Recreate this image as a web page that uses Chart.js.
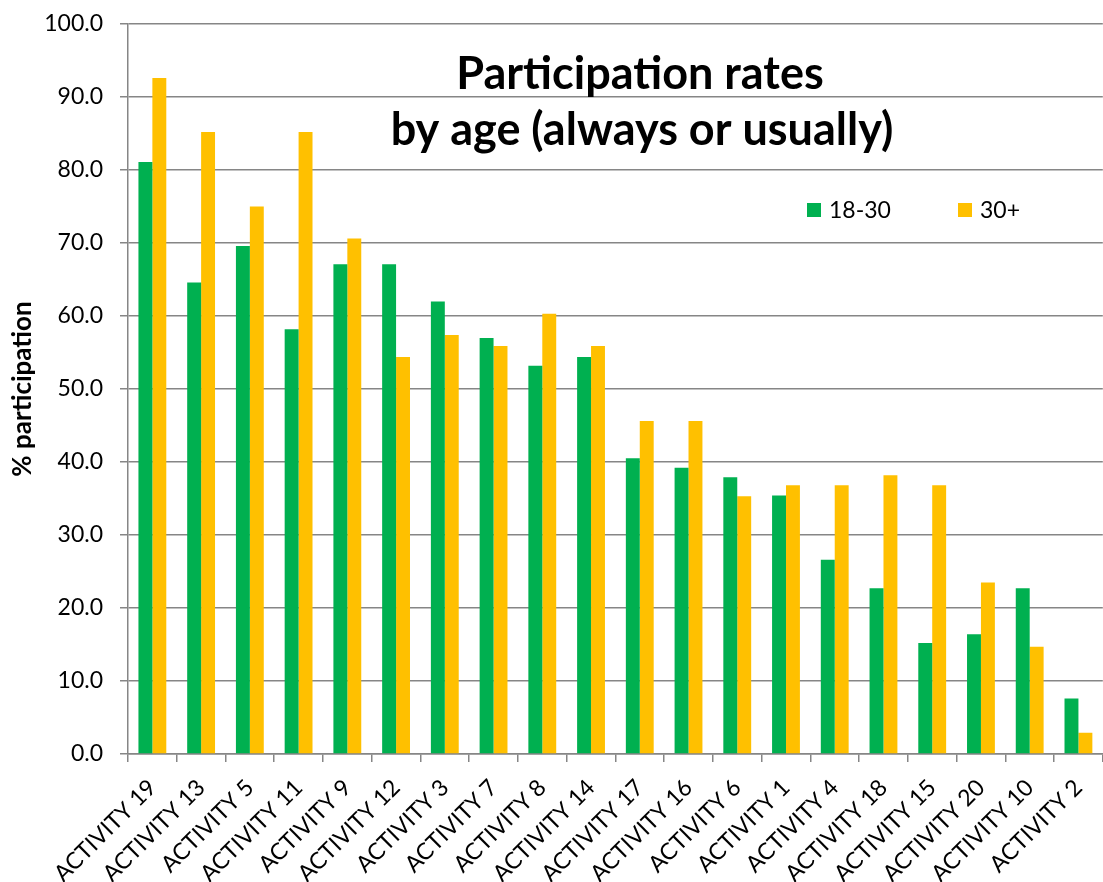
<!DOCTYPE html>
<html>
<head>
<meta charset="utf-8">
<title>Participation rates by age</title>
<script src="https://cdn.jsdelivr.net/npm/chart.js@4.4.1/dist/chart.umd.min.js"></script>
<style>
  html, body { margin: 0; padding: 0; background: #ffffff; overflow: hidden; }
  #wrap { width: 1110px; height: 882px; position: relative; }
</style>
</head>
<body>
<div id="wrap"><canvas id="chart"></canvas></div>
<script>
// Activities, ordered as in the survey summary
const categories = [
  'ACTIVITY 19', 'ACTIVITY 13', 'ACTIVITY 5', 'ACTIVITY 11', 'ACTIVITY 9',
  'ACTIVITY 12', 'ACTIVITY 3', 'ACTIVITY 7', 'ACTIVITY 8', 'ACTIVITY 14',
  'ACTIVITY 17', 'ACTIVITY 16', 'ACTIVITY 6', 'ACTIVITY 1', 'ACTIVITY 4',
  'ACTIVITY 18', 'ACTIVITY 15', 'ACTIVITY 20', 'ACTIVITY 10', 'ACTIVITY 2'
];

// % participating always or usually, by age group
const age18to30 = [81.1, 64.6, 69.6, 58.2, 67.1, 67.1, 62.0, 57.0, 53.2, 54.4,
                   40.5, 39.2, 37.9, 35.4, 26.6, 22.7, 15.2, 16.4, 22.7, 7.6];
const age30plus = [92.6, 85.2, 75.0, 85.2, 70.6, 54.4, 57.4, 55.9, 60.3, 55.9,
                   45.6, 45.6, 35.3, 36.8, 36.8, 38.2, 36.8, 23.5, 14.7, 2.9];

const seriesNames = ['18-30', '30+'];
const seriesColors = ['#00B050', '#FFC000'];

const titleLines = ['Participation rates', 'by age (always or usually)'];
const yAxisTitle = '% participation';
const yMin = 0, yMax = 100, yStep = 10;

const GRID = '#868686';
const FONT = 'Lato, "Open Sans", sans-serif';

// Heading and series key drawn over the plotting area
const headingAndKey = {
  id: 'headingAndKey',
  afterDraw(chart) {
    const ctx = chart.ctx;
    ctx.save();
    ctx.fillStyle = '#000000';
    ctx.textAlign = 'center';
    ctx.textBaseline = 'alphabetic';
    ctx.font = 'bold 45px ' + FONT;
    ctx.fillText(titleLines[0], 640, 89);
    ctx.fillText(titleLines[1], 642, 145);

    const keyX = [807, 958];
    ctx.font = '23px ' + FONT;
    ctx.textAlign = 'left';
    chart.data.datasets.forEach((ds, i) => {
      ctx.fillStyle = ds.backgroundColor;
      ctx.fillRect(keyX[i], 203, 14, 14);
      ctx.fillStyle = '#000000';
      ctx.fillText(ds.label, keyX[i] + 22, 218);
    });
    ctx.restore();
  }
};

new Chart(document.getElementById('chart'), {
  type: 'bar',
  data: {
    labels: categories,
    datasets: [
      { label: seriesNames[0], data: age18to30, backgroundColor: seriesColors[0] },
      { label: seriesNames[1], data: age30plus, backgroundColor: seriesColors[1] }
    ]
  },
  options: {
    responsive: true,
    maintainAspectRatio: false,
    animation: false,
    devicePixelRatio: 1,
    datasets: {
      bar: { categoryPercentage: 28 / 49, barPercentage: 1, borderWidth: 0 }
    },
    layout: { padding: { left: 0, top: 24, right: 2, bottom: 0 } },
    plugins: {
      legend: { display: false },
      tooltip: { enabled: false },
      title: { display: false }
    },
    scales: {
      x: {
        grid: {
          offset: true, drawOnChartArea: false, drawTicks: true,
          tickLength: 8, color: GRID, lineWidth: 1.5
        },
        border: { display: true, color: GRID, width: 1.5 },
        ticks: {
          autoSkip: false, minRotation: 45, maxRotation: 45, padding: 12,
          color: '#000000', font: { family: FONT, size: 23 }
        },
        afterFit(scale) { scale.height = 128; }
      },
      y: {
        min: yMin, max: yMax,
        grid: { color: GRID, lineWidth: 1.5, tickLength: 8, drawTicks: true },
        border: { display: true, color: GRID, width: 1.5 },
        ticks: {
          stepSize: yStep, padding: 17, color: '#000000',
          font: { family: FONT, size: 23 },
          callback: (v) => Number(v).toFixed(1)
        },
        title: {
          display: true, text: yAxisTitle, color: '#000000',
          font: { family: FONT, size: 26, weight: 'bold' },
          padding: { top: 7, bottom: 0 }
        },
        afterFit(scale) {
          scale.width = 128;
          scale.paddingTop = 0;
          scale.paddingBottom = 0;
        }
      }
    }
  },
  plugins: [headingAndKey]
});
</script>
</body>
</html>
